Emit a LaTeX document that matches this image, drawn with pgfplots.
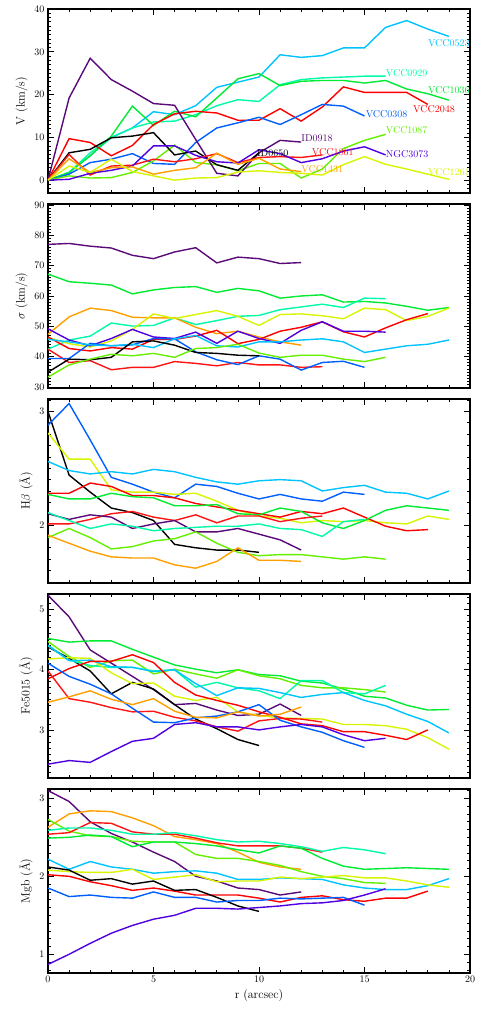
\documentclass[border=0pt]{standalone}
\usepackage{pgfplots}
\pgfplotsset{compat=1.18}
\definecolor{cID0918}{RGB}{90,10,120}
\definecolor{cN3073}{RGB}{80,0,225}
\definecolor{c0308}{RGB}{0,95,255}
\definecolor{c0523}{RGB}{0,195,255}
\definecolor{c0929}{RGB}{0,250,170}
\definecolor{c1036}{RGB}{0,235,50}
\definecolor{c1087}{RGB}{100,240,0}
\definecolor{c1261}{RGB}{215,245,0}
\definecolor{c1431}{RGB}{255,160,0}
\definecolor{c1861}{RGB}{255,20,20}
\definecolor{c2048}{RGB}{255,0,0}

\pgfplotsset{
  panel/.style={
    scale only axis, width=422pt, height=184pt, anchor=south west,
    xmin=0, xmax=20, xtick={0,5,...,20}, minor xtick={0,1,...,20},
    tick align=inside, major tick length=6pt, minor tick length=3pt,
    xtick pos=both, ytick pos=both,
    axis line style={line width=1.1pt},
    every tick/.style={black, line width=0.7pt},
    label style={font=\large},
    every axis plot/.append style={line width=1.4pt, no markers},
  },
}

\begin{document}
\begin{tikzpicture}
\useasboundingbox (0,0) rectangle (482pt,1026pt);

% ---- V ----
\begin{axis}[panel, at={(48pt,833pt)}, xticklabels={},
  ymin=-3, ymax=40, ytick={0,10,...,40}, minor ytick={-3,-2,...,40},
  ylabel={V (km/s)}]
\addplot[c0523] coordinates {(0,0)(1,1.8)(2,5.7)(3,10)(4,12.2)(5,16)(6,15.3)(7,17.4)(8,21.7)(9,22.9)(10,24.1)(11,29.3)(12,28.7)(13,29.1)(14,30.9)(15,30.9)(16,35.7)(17,37.3)(18,35.3)(19,33.6)};
\addplot[c0929] coordinates {(0,0)(1,1.8)(2,6.4)(3,9.9)(4,12.2)(5,13.6)(6,13.8)(7,15.3)(8,17.4)(9,18.8)(10,18.4)(11,22.3)(12,23.5)(13,23.9)(14,24.1)(15,24.3)(16,24.3)};
\addplot[c1036] coordinates {(0,0)(1,1.8)(2,5.7)(3,10.3)(4,17.3)(5,12.8)(6,16.1)(7,14.8)(8,19.2)(9,23.7)(10,24.9)(11,22.1)(12,23.1)(13,23.3)(14,23.3)(15,22.7)(16,23.3)(17,21.3)(18,20.2)(19,18.7)};
\addplot[c2048] coordinates {(0,0)(1,9.7)(2,8.8)(3,5.7)(4,8.1)(5,13)(6,15.5)(7,16.1)(8,15.7)(9,14)(10,14)(11,16.7)(12,13.8)(13,17.1)(14,21.8)(15,20.5)(16,20.5)(17,20.5)(18,17.7)};
\addplot[c0308] coordinates {(0,0)(1,1.4)(2,4.1)(3,4.9)(4,6.2)(5,3.9)(6,3.7)(7,8.8)(8,12.2)(9,13.4)(10,14.7)(11,13)(12,15.3)(13,17.7)(14,17.3)(15,15)};
\addplot[c1087] coordinates {(0,0)(1,1)(2,0.5)(3,0.6)(4,1.8)(5,4.5)(6,8.2)(7,4.1)(8,3.6)(9,2.2)(10,3.9)(11,3.9)(12,0.5)(13,2.6)(14,7.4)(15,9.3)(16,10.7)};
\addplot[cID0918] coordinates {(0,0)(1,19.2)(2,28.5)(3,23.5)(4,20.8)(5,17.9)(6,17.5)(7,9.5)(8,1.6)(9,1.0)(10,6.4)(11,9.3)(12,8.9)};
\addplot[black] coordinates {(0,0)(1,6.4)(2,7.2)(3,9.9)(4,10.3)(5,11.1)(6,5.9)(7,6.8)(8,3.6)(9,2.3)(10,6.4)};
\addplot[c1861] coordinates {(0,0)(1,6)(2,1.2)(3,3.3)(4,3.5)(5,4.9)(6,4.3)(7,5)(8,6.2)(9,4.1)(10,5.3)(11,5.5)(12,5.3)(13,5.9)};
\addplot[cN3073] coordinates {(0,0)(1,0.2)(2,1.6)(3,2.3)(4,3.3)(5,8)(6,8)(7,5.8)(8,4.3)(9,4)(10,7.1)(11,6.2)(12,4.1)(13,5)(14,6.8)(15,7.8)(16,5.9)};
\addplot[c1431] coordinates {(0,0)(1,5)(2,1.8)(3,2.9)(4,3.1)(5,1.4)(6,2.3)(7,2.9)(8,6.3)(9,3.7)(10,5.1)(11,2.6)(12,2)};
\addplot[c1261] coordinates {(0,0)(1,3.3)(2,1.8)(3,4.9)(4,2)(5,1)(6,0)(7,0.5)(8,0.6)(9,1.9)(10,2.2)(11,1.8)(12,1.6)(13,1.2)(14,3.6)(15,5.5)(16,3.7)(17,2.6)(18,1.4)(19,0.2)};
\node[anchor=west, inner sep=0, text=c0523] at (axis cs:18,32) {VCC0523};
\node[anchor=west, inner sep=0, text=c0929] at (axis cs:16,25) {VCC0929};
\node[anchor=west, inner sep=0, text=c1036] at (axis cs:18,21) {VCC1036};
\node[anchor=west, inner sep=0, text=c2048] at (axis cs:17.3,16.5) {VCC2048};
\node[anchor=west, inner sep=0, text=c0308] at (axis cs:15.05,15.5) {VCC0308};
\node[anchor=west, inner sep=0, text=c1087] at (axis cs:16,11.6) {VCC1087};
\node[anchor=west, inner sep=0, text=cID0918] at (axis cs:12,9.7) {ID0918};
\node[anchor=west, inner sep=0, text=black] at (axis cs:9.9,6.3) {ID0650};
\node[anchor=west, inner sep=0, text=c1861] at (axis cs:12.5,6.6) {VCC1861};
\node[anchor=west, inner sep=0, text=cN3073] at (axis cs:16,6.2) {NGC3073};
\node[anchor=west, inner sep=0, text=c1431] at (axis cs:12,2.7) {VCC1431};
\node[anchor=west, inner sep=0, text=c1261] at (axis cs:18,1.9) {VCC1261};
\end{axis}

% ---- sigma ----
\begin{axis}[panel, at={(48pt,638pt)}, xticklabels={},
  ymin=29.7, ymax=90.3, ytick={30,40,...,90}, minor ytick={30,31,...,90},
  ylabel={$\sigma$ (km/s)}]
\addplot[cID0918] coordinates {(0,77)(1,77.3)(2,76.4)(3,75.8)(4,73.4)(5,72.3)(6,74.5)(7,75.9)(8,70.9)(9,72.8)(10,72.3)(11,70.7)(12,71)};
\addplot[c1036] coordinates {(0,67.2)(1,64.7)(2,64.2)(3,63.6)(4,60.7)(5,62)(6,62.8)(7,63.1)(8,61.2)(9,62.5)(10,61.7)(11,59.3)(12,60)(13,60.4)(14,58)(15,58.2)(16,57.7)(17,56.6)(18,55.3)(19,56.2)};
\addplot[c0929] coordinates {(0,42.5)(1,45.5)(2,46.8)(3,51.1)(4,50.1)(5,50.3)(6,52.8)(7,50.6)(8,51.9)(9,53.3)(10,53.6)(11,55.5)(12,56.4)(13,57.3)(14,56.2)(15,59.3)(16,59.1)};
\addplot[c1431] coordinates {(0,47.4)(1,53.1)(2,56)(3,55.2)(4,53)(5,52.8)(6,52.8)(7,49.7)(8,47.6)(9,48.4)(10,46.5)(11,44.9)(12,43.8)};
\addplot[c1261] coordinates {(0,46.3)(1,44.3)(2,43.2)(3,45.2)(4,49)(5,54.1)(6,52.6)(7,53.9)(8,55.2)(9,53.3)(10,50.3)(11,53.9)(12,54.1)(13,53.5)(14,52.5)(15,56)(16,55.5)(17,51.9)(18,53.3)(19,56)};
\addplot[c2048] coordinates {(0,46.5)(1,42.7)(2,41.9)(3,43)(4,42.5)(5,45.7)(6,45.7)(7,46.8)(8,48.7)(9,44.3)(10,45.7)(11,48.4)(12,49.7)(13,51.5)(14,48.2)(15,46.5)(16,49.5)(17,52.2)(18,54.2)};
\addplot[c1861] coordinates {(0,42.5)(1,38.1)(2,38.7)(3,35.7)(4,36.5)(5,36.5)(6,38.4)(7,37.8)(8,37)(9,38.1)(10,37.3)(11,37.3)(12,36.5)(13,36.7)};
\addplot[cN3073] coordinates {(0,49.2)(1,45.5)(2,43.6)(3,46)(4,49)(5,46.5)(6,46)(7,48.1)(8,44.4)(9,48.4)(10,46)(11,44.4)(12,48.7)(13,51.5)(14,48.4)(15,48.4)(16,48.1)};
\addplot[c0308] coordinates {(0,39.4)(1,39.4)(2,44.4)(3,43.6)(4,43.9)(5,46)(6,45.9)(7,41.6)(8,39)(9,37.4)(10,40.3)(11,39.2)(12,35.6)(13,38.1)(14,38.5)(15,36.5)};
\addplot[c0523] coordinates {(0,45.7)(1,44.9)(2,43.9)(3,43.6)(4,44.1)(5,43)(6,45.9)(7,47)(8,43.6)(9,43.2)(10,44.9)(11,44.9)(12,45.5)(13,45.9)(14,44.9)(15,41.4)(16,42.5)(17,43.6)(18,44.1)(19,45.5)};
\addplot[black] coordinates {(0,34.9)(1,39.2)(2,39)(3,39.8)(4,44.9)(5,45.2)(6,43.8)(7,41.4)(8,41.1)(9,40.5)(10,40.3)};
\addplot[c1087] coordinates {(0,33.3)(1,37.3)(2,39.2)(3,40.8)(4,40.3)(5,41.1)(6,39.8)(7,42.7)(8,43)(9,44.1)(10,41.2)(11,39.8)(12,40.5)(13,40.5)(14,39.2)(15,38.4)(16,39.8)};
\end{axis}

% ---- Hbeta ----
\begin{axis}[panel, at={(48pt,443pt)}, xticklabels={},
  ymin=1.49, ymax=3.11, ytick={2,3}, minor ytick={1.5,1.6,...,3.1},
  ylabel={H$\beta$ (\AA)}]
\addplot[black] coordinates {(0,3.0)(1,2.44)(2,2.29)(3,2.15)(4,2.11)(5,2.04)(6,1.83)(7,1.80)(8,1.78)(9,1.78)(10,1.76)};
\addplot[c0308] coordinates {(0,2.88)(1,3.07)(2,2.75)(3,2.42)(4,2.36)(5,2.29)(6,2.24)(7,2.36)(8,2.34)(9,2.28)(10,2.23)(11,2.27)(12,2.23)(13,2.21)(14,2.29)(15,2.27)};
\addplot[c1261] coordinates {(0,2.81)(1,2.58)(2,2.58)(3,2.31)(4,2.29)(5,2.29)(6,2.27)(7,2.28)(8,2.21)(9,2.13)(10,2.08)(11,2.06)(12,2.02)(13,2.04)(14,2.03)(15,2.04)(16,2.02)(17,2.01)(18,2.08)(19,2.05)};
\addplot[c0523] coordinates {(0,2.56)(1,2.48)(2,2.45)(3,2.47)(4,2.45)(5,2.49)(6,2.47)(7,2.42)(8,2.38)(9,2.36)(10,2.39)(11,2.40)(12,2.39)(13,2.30)(14,2.33)(15,2.35)(16,2.29)(17,2.28)(18,2.23)(19,2.30)};
\addplot[c2048] coordinates {(0,2.28)(1,2.28)(2,2.37)(3,2.34)(4,2.26)(5,2.26)(6,2.24)(7,2.19)(8,2.16)(9,2.13)(10,2.10)(11,2.07)(12,2.12)(13,2.10)(14,2.15)(15,2.07)(16,1.99)(17,1.95)(18,1.96)};
\addplot[c1036] coordinates {(0,2.27)(1,2.23)(2,2.23)(3,2.28)(4,2.25)(5,2.24)(6,2.17)(7,2.17)(8,2.18)(9,2.10)(10,2.09)(11,2.15)(12,2.12)(13,2.02)(14,1.97)(15,2.04)(16,2.13)(17,2.17)(18,2.15)(19,2.13)};
\addplot[c1861] coordinates {(0,2.01)(1,2.01)(2,2.05)(3,2.10)(4,2.12)(5,2.07)(6,2.04)(7,2.09)(8,2.02)(9,2.08)(10,2.08)(11,2.03)(12,2.06)(13,2.08)};
\addplot[cID0918] coordinates {(0,2.10)(1,2.05)(2,2.09)(3,2.07)(4,1.97)(5,2.01)(6,2.04)(7,1.94)(8,1.94)(9,1.97)(10,1.92)(11,1.87)(12,1.78)};
\addplot[c0929] coordinates {(0,2.11)(1,2.04)(2,1.97)(3,2.01)(4,1.99)(5,1.95)(6,1.97)(7,1.98)(8,1.99)(9,1.99)(10,2.01)(11,1.97)(12,1.96)(13,1.90)(14,2.03)(15,2.05)};
\addplot[c1087] coordinates {(0,1.89)(1,1.97)(2,1.89)(3,1.79)(4,1.81)(5,1.86)(6,1.88)(7,1.94)(8,1.84)(9,1.76)(10,1.73)(11,1.74)(12,1.74)(13,1.72)(14,1.70)(15,1.72)(16,1.70)};
\addplot[c1431] coordinates {(0,1.91)(1,1.84)(2,1.77)(3,1.72)(4,1.71)(5,1.71)(6,1.65)(7,1.62)(8,1.68)(9,1.80)(10,1.69)(11,1.69)(12,1.68)};
\end{axis}

% ---- Fe5015 ----
\begin{axis}[panel, at={(48pt,248pt)}, xticklabels={},
  ymin=2.2, ymax=5.26, ytick={3,4,5}, minor ytick={2.3,2.4,...,5.2},
  ylabel={Fe5015 (\AA)}]
\addplot[cID0918] coordinates {(0,5.24)(1,4.88)(2,4.33)(3,4.11)(4,3.89)(5,3.67)(6,3.42)(7,3.44)(8,3.33)(9,3.24)(10,3.26)(11,3.43)(12,3.24)};
\addplot[black] coordinates {(0,4.38)(1,4.19)(2,3.98)(3,3.60)(4,3.79)(5,3.68)(6,3.42)(7,3.18)(8,3.02)(9,2.84)(10,2.74)};
\addplot[c1036] coordinates {(0,4.52)(1,4.46)(2,4.48)(3,4.48)(4,4.34)(5,4.21)(6,4.08)(7,4.01)(8,3.95)(9,4.0)(10,3.92)(11,3.90)(12,3.81)(13,3.78)(14,3.68)(15,3.56)(16,3.53)(17,3.41)(18,3.33)(19,3.34)};
\addplot[c1087] coordinates {(0,4.47)(1,4.22)(2,4.04)(3,4.15)(4,4.16)(5,3.93)(6,4.01)(7,3.93)(8,3.86)(9,4.0)(10,3.90)(11,3.85)(12,3.74)(13,3.70)(14,3.70)(15,3.67)(16,3.63)};
\addplot[c0929] coordinates {(0,4.40)(1,4.16)(2,4.07)(3,4.04)(4,4.04)(5,3.98)(6,4.0)(7,3.71)(8,3.79)(9,3.70)(10,3.65)(11,3.52)(12,3.82)(13,3.82)(14,3.62)(15,3.60)(16,3.74)};
\addplot[c1261] coordinates {(0,4.18)(1,4.20)(2,4.19)(3,3.95)(4,3.77)(5,3.78)(6,3.56)(7,3.49)(8,3.54)(9,3.30)(10,3.24)(11,3.20)(12,3.19)(13,3.18)(14,3.09)(15,3.09)(16,3.07)(17,3.01)(18,2.87)(19,2.68)};
\addplot[c0523] coordinates {(0,4.41)(1,4.15)(2,4.16)(3,4.05)(4,4.04)(5,3.97)(6,4.0)(7,3.77)(8,3.57)(9,3.70)(10,3.69)(11,3.62)(12,3.54)(13,3.59)(14,3.62)(15,3.49)(16,3.40)(17,3.26)(18,3.14)(19,2.95)};
\addplot[c2048] coordinates {(0,3.85)(1,4.02)(2,4.14)(3,4.14)(4,4.25)(5,4.12)(6,3.79)(7,3.58)(8,3.49)(9,3.41)(10,3.30)(11,3.21)(12,3.10)(13,3.07)(14,2.97)(15,2.97)(16,2.91)(17,2.84)(18,3.0)};
\addplot[c1861] coordinates {(0,3.98)(1,3.52)(2,3.46)(3,3.37)(4,3.30)(5,3.31)(6,3.21)(7,3.15)(8,3.05)(9,2.98)(10,3.15)(11,3.19)(12,3.18)(13,3.13)};
\addplot[c0308] coordinates {(0,4.11)(1,3.89)(2,3.76)(3,3.60)(4,3.36)(5,3.13)(6,3.12)(7,3.20)(8,3.23)(9,3.30)(10,3.42)(11,3.16)(12,3.05)(13,2.96)(14,2.82)(15,2.71)};
\addplot[cN3073] coordinates {(0,2.43)(1,2.49)(2,2.46)(3,2.64)(4,2.81)(5,2.86)(6,3.09)(7,3.12)(8,3.05)(9,3.05)(10,3.0)(11,3.05)(12,3.09)(13,3.05)(14,2.92)(15,2.82)(16,2.86)};
\addplot[c1431] coordinates {(0,3.46)(1,3.55)(2,3.65)(3,3.51)(4,3.42)(5,3.52)(6,3.31)(7,3.21)(8,3.20)(9,3.30)(10,3.23)(11,3.26)(12,3.38)};
\end{axis}

% ---- Mgb ----
\begin{axis}[panel, at={(48pt,53pt)},
  ymin=0.76, ymax=3.12, ytick={1,2,3}, minor ytick={0.8,0.9,...,3.1},
  ylabel={Mgb (\AA)}, xlabel={r (arcsec)}]
\addplot[cID0918] coordinates {(0,3.10)(1,2.96)(2,2.70)(3,2.55)(4,2.44)(5,2.31)(6,2.19)(7,2.0)(8,1.94)(9,1.85)(10,1.83)(11,1.76)(12,1.80)};
\addplot[c1431] coordinates {(0,2.63)(1,2.80)(2,2.84)(3,2.83)(4,2.75)(5,2.65)(6,2.51)(7,2.47)(8,2.42)(9,2.31)(10,2.18)(11,2.12)(12,2.09)};
\addplot[c1087] coordinates {(0,2.73)(1,2.58)(2,2.52)(3,2.51)(4,2.45)(5,2.44)(6,2.44)(7,2.28)(8,2.23)(9,2.23)(10,2.19)(11,2.14)(12,2.06)(13,2.0)(14,1.97)(15,1.92)(16,1.91)};
\addplot[c1861] coordinates {(0,2.54)(1,2.56)(2,2.69)(3,2.68)(4,2.57)(5,2.54)(6,2.54)(7,2.49)(8,2.43)(9,2.39)(10,2.39)(11,2.39)(12,2.36)(13,2.31)};
\addplot[c2048] coordinates {(0,2.02)(1,2.0)(2,1.93)(3,1.88)(4,1.82)(5,1.85)(6,1.81)(7,1.76)(8,1.76)(9,1.76)(10,1.72)(11,1.67)(12,1.73)(13,1.75)(14,1.70)(15,1.68)(16,1.72)(17,1.72)(18,1.81)};
\addplot[c0929] coordinates {(0,2.59)(1,2.62)(2,2.62)(3,2.59)(4,2.54)(5,2.54)(6,2.56)(7,2.52)(8,2.47)(9,2.44)(10,2.45)(11,2.42)(12,2.38)(13,2.32)(14,2.37)(15,2.34)(16,2.29)};
\addplot[c1036] coordinates {(0,2.49)(1,2.50)(2,2.53)(3,2.51)(4,2.38)(5,2.44)(6,2.44)(7,2.42)(8,2.39)(9,2.34)(10,2.30)(11,2.39)(12,2.36)(13,2.23)(14,2.13)(15,2.09)(16,2.10)(17,2.11)(18,2.10)(19,2.09)};
\addplot[c0523] coordinates {(0,2.22)(1,2.09)(2,2.19)(3,2.12)(4,2.09)(5,2.04)(6,2.06)(7,2.07)(8,2.04)(9,1.96)(10,1.96)(11,1.98)(12,1.97)(13,1.96)(14,1.89)(15,1.85)(16,1.83)(17,1.83)(18,1.88)(19,1.97)};
\addplot[c1261] coordinates {(0,2.08)(1,2.06)(2,2.05)(3,2.05)(4,2.09)(5,1.96)(6,1.99)(7,2.02)(8,1.93)(9,1.94)(10,1.94)(11,1.99)(12,1.97)(13,1.99)(14,2.01)(15,1.98)(16,1.98)(17,1.94)(18,1.89)(19,1.86)};
\addplot[black] coordinates {(0,2.12)(1,2.08)(2,1.95)(3,1.97)(4,1.90)(5,1.94)(6,1.82)(7,1.83)(8,1.73)(9,1.62)(10,1.55)};
\addplot[c0308] coordinates {(0,1.85)(1,1.74)(2,1.76)(3,1.73)(4,1.72)(5,1.80)(6,1.73)(7,1.73)(8,1.67)(9,1.69)(10,1.69)(11,1.72)(12,1.71)(13,1.72)(14,1.73)(15,1.63)};
\addplot[cN3073] coordinates {(0,0.87)(1,1.0)(2,1.14)(3,1.27)(4,1.37)(5,1.45)(6,1.50)(7,1.59)(8,1.59)(9,1.58)(10,1.60)(11,1.62)(12,1.65)(13,1.66)(14,1.69)(15,1.76)(16,1.84)};
\end{axis}
\end{tikzpicture}
\end{document}
